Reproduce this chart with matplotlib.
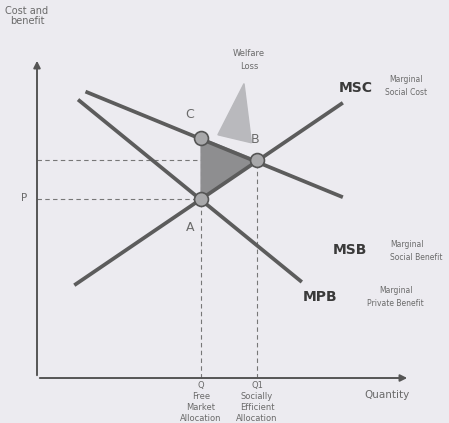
import matplotlib.pyplot as plt
import numpy as np

# curve end points (quantity, cost/benefit)
msc_q = [10, 82]
msc_c = [29, 86]
msb_q = [13, 82]
msb_c = [89.5, 56.5]
mpb_q = [11, 71]
mpb_c = [87, 30]

# key points
q_free, q_eff = 44, 59
p_free, p_eff, c_level = 56, 68, 75

# welfare loss pointer wedge
wedge_q = [55.5, 48.5, 57.5]
wedge_c = [92.0, 76.0, 73.5]

bg = '#ecebf0'
line_col = '#5c5c5c'
txt_col = '#6a6a6a'

fig = plt.figure(figsize=(4.49, 4.23), dpi=100)
fig.patch.set_facecolor(bg)
ax = fig.add_axes([0, 0, 1, 1])
ax.set_facecolor(bg)
ax.set_xlim(-9.92, 110.46)
ax.set_ylim(-14.06, 118.125)
ax.axis('off')

# axes with arrows
ax.annotate('', xy=(0, 100), xytext=(0, 0),
            arrowprops=dict(arrowstyle='-|>', color='#555555', lw=1.4, mutation_scale=10))
ax.annotate('', xy=(100, 0), xytext=(0, 0),
            arrowprops=dict(arrowstyle='-|>', color='#555555', lw=1.4, mutation_scale=10))

# welfare loss triangle and pointer
ax.fill(wedge_q, wedge_c, color='#b9b9bd', zorder=1)
ax.fill([q_free, q_free, q_eff], [c_level, p_free, p_eff], color='#8e8e90', zorder=2)

# dashed guides
dash = dict(color='#777777', lw=0.8, ls=(0, (4, 3)), zorder=1)
ax.plot([0, q_free], [p_free, p_free], **dash)
ax.plot([0, q_eff], [p_eff, p_eff], **dash)
ax.plot([q_free, q_free], [0, c_level], **dash)
ax.plot([q_eff, q_eff], [0, p_eff], **dash)

# curves
for qs, cs in [(msc_q, msc_c), (msb_q, msb_c), (mpb_q, mpb_c)]:
    ax.plot(qs, cs, color=line_col, lw=2.7, solid_capstyle='butt', zorder=3)

# points C, A, B
ax.plot([q_free, q_free, q_eff], [c_level, p_free, p_eff], 'o', ms=10,
        mfc='#a8a8aa', mec='#555555', mew=1.2, zorder=4)

ax.text(40.8, 82.2, 'C', fontsize=9, color=txt_col, ha='center', va='center')
ax.text(58.4, 74.4, 'B', fontsize=9, color=txt_col, ha='center', va='center')
ax.text(41.0, 46.9, 'A', fontsize=9, color=txt_col, ha='center', va='center')
ax.text(-3.5, 56.2, 'P', fontsize=7.5, color=txt_col, ha='center', va='center')

ax.text(-2.7, 113.1, 'Cost and\nbenefit', fontsize=7, color=txt_col,
        ha='center', va='center', linespacing=1.1)
ax.text(56.8, 99.4, 'Welfare\nLoss', fontsize=6, color=txt_col,
        ha='center', va='center', linespacing=1.6)

ax.text(85.5, 90.6, 'MSC', fontsize=10, fontweight='bold', color='#3a3a3a',
        ha='center', va='center')
ax.text(98.9, 91.2, 'Marginal\nSocial Cost', fontsize=5.5, color=txt_col,
        ha='center', va='center', linespacing=1.5)
ax.text(83.9, 40.0, 'MSB', fontsize=10, fontweight='bold', color='#3a3a3a',
        ha='center', va='center')
ax.text(94.6, 39.7, 'Marginal\nSocial Benefit', fontsize=5.5, color=txt_col,
        ha='left', va='center', linespacing=1.5)
ax.text(75.9, 25.3, 'MPB', fontsize=10, fontweight='bold', color='#3a3a3a',
        ha='center', va='center')
ax.text(96.2, 25.3, 'Marginal\nPrivate Benefit', fontsize=5.5, color=txt_col,
        ha='center', va='center', linespacing=1.5)

ax.text(93.8, -5.3, 'Quantity', fontsize=7.5, color=txt_col, ha='center', va='center')
ax.text(q_free, -0.8, 'Q\nFree\nMarket\nAllocation', fontsize=6, color=txt_col,
        ha='center', va='top', linespacing=1.3)
ax.text(q_eff, -0.8, 'Q1\nSocially\nEfficient\nAllocation', fontsize=6, color=txt_col,
        ha='center', va='top', linespacing=1.3)

fig.savefig('out.png', dpi=100, facecolor=bg)
